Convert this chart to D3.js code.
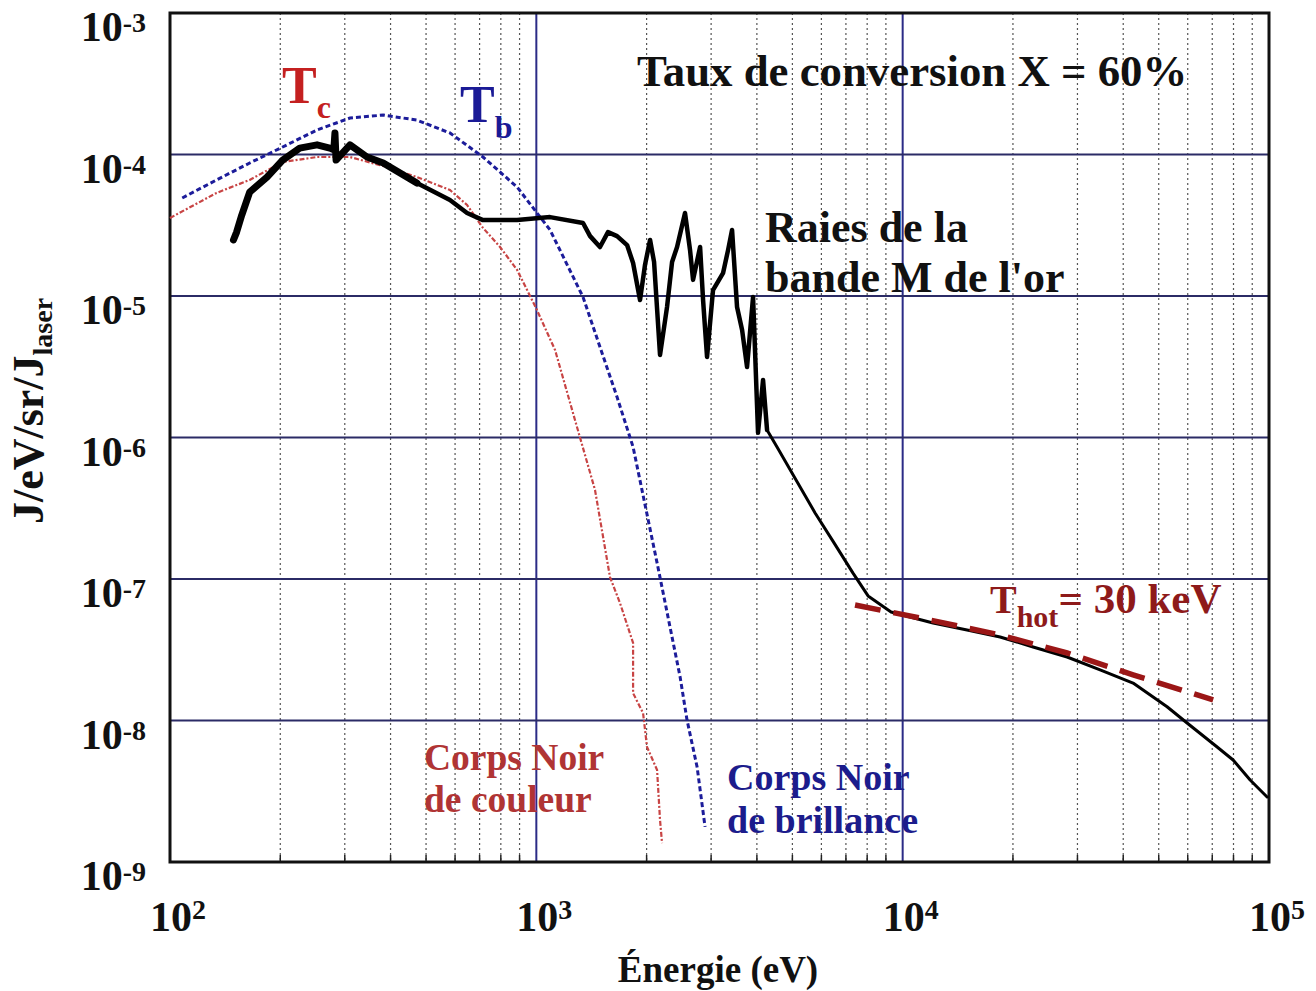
<!DOCTYPE html>
<html>
<head>
<meta charset="utf-8">
<script src="https://cdn.jsdelivr.net/npm/d3@7"></script>
<style>
  html, body { margin: 0; padding: 0; background: #fff; }
  svg text { font-family: "Liberation Serif", "Times New Roman", serif; font-weight: bold; }
</style>
</head>
<body>
<svg id="chart" width="1316" height="991"></svg>
<script>
// Measured gold spectrum (energy in eV, J/eV/sr/J_laser)
const measuredEnergy = [149, 152, 157, 165, 184, 203, 226, 252, 273, 280, 282, 284, 310, 345, 382, 472, 581, 647, 715, 886, 1090, 1341, 1402, 1492, 1569, 1661, 1769, 1837, 1919, 1980, 2044, 2096, 2176, 2274, 2347, 2422, 2546, 2628, 2678, 2799, 2852, 2924, 3036, 3233, 3337, 3422, 3531, 3645, 3760, 3905, 4029, 4158, 4264,
  4540, 5117, 5767, 6496, 7319, 8046, 9296, 10476, 12106, 14990, 18450, 22700, 28110, 34590, 42560, 52690, 59760, 72180, 79810, 88820, 98810];
const measuredFlux = [2.49e-5, 2.83e-5, 3.73e-5, 5.43e-5, 6.93e-5, 9.14e-5, 1.11e-4, 1.17e-4, 1.11e-4, 1.08e-4, 1.42e-4, 9.14e-5, 1.17e-4, 9.6e-5, 8.71e-5, 6.29e-5, 4.77e-5, 3.86e-5, 3.44e-5, 3.44e-5, 3.61e-5, 3.28e-5, 2.65e-5, 2.22e-5, 2.83e-5, 2.65e-5, 2.29e-5, 1.71e-5, 9.37e-6, 1.66e-5, 2.49e-5, 1.74e-5, 3.83e-6, 8.36e-6, 1.74e-5, 2.22e-5, 3.86e-5, 2.11e-5, 1.30e-5, 2.22e-5, 9.37e-6, 3.71e-6, 1.10e-5, 1.45e-5, 2.11e-5, 2.93e-5, 8.36e-6, 5.75e-6, 3.15e-6, 9.84e-6, 1.08e-6, 2.55e-6, 1.13e-6,
  8.57e-7, 5.01e-7, 2.93e-7, 1.80e-7, 1.10e-7, 7.59e-8, 5.85e-8, 5.39e-8, 4.89e-8, 4.36e-8, 3.89e-8, 3.31e-8, 2.81e-8, 2.28e-8, 1.84e-8, 1.25e-8, 9.6e-9, 6.5e-9, 5.26e-9, 3.80e-9, 2.88e-9];
// Energy ranges drawn with heavier strokes (dense low-energy data, M-band lines)
const denseLimit = 472;
const noisyLimit = 4264;

// Colour-temperature blackbody (Tc)
const colourEnergy = [100, 134, 165, 203, 252, 310, 382, 472, 581, 647, 715, 796, 886, 998, 1125, 1275, 1446, 1589, 1692, 1837, 1837, 1956, 2005, 2136, 2176, 2204];
const colourFlux = [3.56e-5, 5.35e-5, 6.61e-5, 8.85e-5, 9.6e-5, 9.6e-5, 8.29e-5, 6.93e-5, 5.61e-5, 4.40e-5, 3.03e-5, 2.22e-5, 1.53e-5, 8.23e-6, 4.15e-6, 1.33e-6, 4.26e-7, 1.03e-7, 6.76e-8, 3.53e-8, 1.56e-8, 1.13e-8, 6.5e-9, 4.47e-9, 1.98e-9, 1.36e-9];

// Brightness-temperature blackbody (Tb)
const brightEnergy = [108, 134, 165, 203, 252, 310, 382, 472, 581, 715, 886, 1090, 1341, 1492, 1661, 1837, 2136, 2317, 2469, 2578, 2747, 2888];
const brightFlux = [4.93e-5, 6.61e-5, 8.71e-5, 1.13e-4, 1.49e-4, 1.81e-4, 1.90e-4, 1.75e-4, 1.42e-4, 9.6e-5, 5.89e-5, 2.93e-5, 9.84e-6, 4.36e-6, 1.93e-6, 8.57e-7, 1.30e-7, 4.58e-8, 2.03e-8, 1.01e-8, 4.69e-9, 1.77e-9];

// Hot electron fit, T_hot = 30 keV
const hotEnergy = [7413, 11880, 18450, 28110, 42560, 70400];
const hotFlux = [6.55e-8, 5.13e-8, 4.02e-8, 3.0e-8, 2.10e-8, 1.40e-8];

// Axis decades
const xDecades = [2, 3, 4, 5];
const yDecades = [-3, -4, -5, -6, -7, -8, -9];

const width = 1316;
const svg = d3.select("#chart");
const plotLeft = 170, plotRight = 1269, plotTop = 13, plotBottom = 862;

const x = d3.scaleLog().domain([1e2, 1e5]).range([plotLeft, plotRight]);
const y = d3.scaleLog().domain([1e-9, 1e-3]).range([plotBottom, plotTop]);

// Minor vertical grid (dotted)
const minorX = x.ticks().filter(v => {
  const l = Math.log10(v);
  return Math.abs(l - Math.round(l)) > 1e-6;
});
svg.append("g").selectAll("line").data(minorX).join("line")
  .attr("x1", d => x(d)).attr("x2", d => x(d))
  .attr("y1", plotTop).attr("y2", plotBottom)
  .attr("stroke", "#555").attr("stroke-width", 1.2)
  .attr("stroke-dasharray", "2,3");

// Small ticks at the bottom axis
svg.append("g").selectAll("line").data(minorX).join("line")
  .attr("x1", d => x(d)).attr("x2", d => x(d))
  .attr("y1", plotBottom).attr("y2", plotBottom - 7)
  .attr("stroke", "#222").attr("stroke-width", 1.5);

// Major grid
svg.append("g").selectAll("line").data([1e3, 1e4]).join("line")
  .attr("x1", d => x(d)).attr("x2", d => x(d))
  .attr("y1", plotTop).attr("y2", plotBottom)
  .attr("stroke", "#2b2b86").attr("stroke-width", 2);
svg.append("g").selectAll("line").data([1e-4, 1e-5, 1e-6, 1e-7, 1e-8]).join("line")
  .attr("x1", plotLeft).attr("x2", plotRight)
  .attr("y1", d => y(d)).attr("y2", d => y(d))
  .attr("stroke", "#2b2b66").attr("stroke-width", 2);

// Frame
svg.append("rect").attr("x", plotLeft).attr("y", plotTop)
  .attr("width", plotRight - plotLeft).attr("height", plotBottom - plotTop)
  .attr("fill", "none").attr("stroke", "#111").attr("stroke-width", 3);

const line = d3.line().x(d => x(d[0])).y(d => y(d[1]));
const zip = (a, b) => a.map((v, i) => [v, b[i]]);

// Blackbody curves
svg.append("path").datum(zip(colourEnergy, colourFlux))
  .attr("d", line).attr("fill", "none")
  .attr("stroke", "#c84444").attr("stroke-width", 2.2)
  .attr("stroke-dasharray", "5,2,2,2");
svg.append("path").datum(zip(brightEnergy, brightFlux))
  .attr("d", line).attr("fill", "none")
  .attr("stroke", "#1c1c9a").attr("stroke-width", 3)
  .attr("stroke-dasharray", "5,3");

// Measured spectrum
const measured = zip(measuredEnergy, measuredFlux);
const segments = [
  { data: measured.filter(d => d[0] <= denseLimit), width: 7 },
  { data: measured.filter(d => d[0] >= denseLimit && d[0] <= noisyLimit), width: 4.5 },
  { data: measured.filter(d => d[0] >= noisyLimit), width: 3 }
];
svg.append("g").selectAll("path").data(segments).join("path")
  .attr("d", d => line(d.data)).attr("fill", "none")
  .attr("stroke", "#000").attr("stroke-width", d => d.width)
  .attr("stroke-linejoin", "round").attr("stroke-linecap", "round");

// Hot-electron fit
svg.append("path").datum(zip(hotEnergy, hotFlux))
  .attr("d", line).attr("fill", "none")
  .attr("stroke", "#9b1616").attr("stroke-width", 5.5)
  .attr("stroke-dasharray", "26,13");

// Y tick labels (placed just below their grid line)
const yl = svg.append("g");
yDecades.forEach(p => {
  const t = yl.append("text").attr("x", 146).attr("y", y(Math.pow(10, p)) + 28)
    .attr("text-anchor", "end").attr("font-size", 42).attr("fill", "#111");
  t.append("tspan").text("10");
  t.append("tspan").attr("font-size", 28).attr("dy", -9).text(String(p));
});

// X tick labels, kept inside the page on the right
const xl = svg.append("g");
xDecades.forEach(p => {
  const t = xl.append("text").attr("x", x(Math.pow(10, p)) - 20).attr("y", 931)
    .attr("font-size", 42).attr("fill", "#111");
  t.append("tspan").text("10");
  t.append("tspan").attr("font-size", 28).attr("dy", -12).text(String(p));
  const w = t.node().getComputedTextLength();
  const x0 = +t.attr("x");
  if (x0 + w > width - 6) t.attr("x", width - 6 - w);
});

// Axis titles
svg.append("text").attr("x", 718).attr("y", 982).attr("text-anchor", "middle")
  .attr("font-size", 37).attr("fill", "#111").text("Énergie (eV)");
const yt = svg.append("text").attr("transform", "translate(43,411) rotate(-90)")
  .attr("text-anchor", "middle").attr("font-size", 44).attr("fill", "#111");
yt.append("tspan").text("J/eV/sr/J");
yt.append("tspan").attr("font-size", 28).attr("dy", 9).text("laser");

// Annotations
svg.append("text").attr("x", 637).attr("y", 86).attr("font-size", 44.8).attr("fill", "#111")
  .text("Taux de conversion X = 60%");

const tc = svg.append("text").attr("x", 282).attr("y", 103).attr("fill", "#c42020");
tc.append("tspan").attr("font-size", 52).text("T");
tc.append("tspan").attr("font-size", 32).attr("dy", 15).text("c");

const tb = svg.append("text").attr("x", 460).attr("y", 122).attr("fill", "#1a1a96");
tb.append("tspan").attr("font-size", 52).text("T");
tb.append("tspan").attr("font-size", 32).attr("dy", 16).text("b");

svg.append("text").attr("x", 765).attr("y", 242).attr("font-size", 44).attr("fill", "#111").text("Raies de la");
svg.append("text").attr("x", 765).attr("y", 292).attr("font-size", 44).attr("fill", "#111").text("bande M de l'or");

const th = svg.append("text").attr("x", 990).attr("y", 613).attr("fill", "#8e1a1a");
th.append("tspan").attr("font-size", 40).text("T");
th.append("tspan").attr("font-size", 30).attr("dy", 14).text("hot");
th.append("tspan").attr("font-size", 43).attr("dy", -14).text("= 30 keV");

svg.append("text").attr("x", 424).attr("y", 770).attr("font-size", 37.5).attr("fill", "#b03434").text("Corps Noir");
svg.append("text").attr("x", 424).attr("y", 812).attr("font-size", 37.5).attr("fill", "#b03434").text("de couleur");
svg.append("text").attr("x", 727).attr("y", 790).attr("font-size", 38).attr("fill", "#1c1c8c").text("Corps Noir");
svg.append("text").attr("x", 727).attr("y", 833).attr("font-size", 38).attr("fill", "#1c1c8c").text("de brillance");
</script>
</body>
</html>
